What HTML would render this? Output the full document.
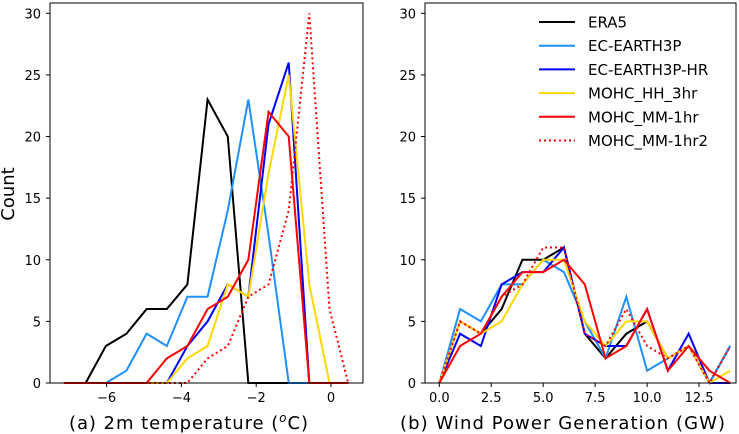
<!DOCTYPE html>
<html><head><meta charset="utf-8"><style>
body{margin:0;background:#fff;}
svg{display:block;font-family:"DejaVu Sans","Liberation Sans",sans-serif;}
</style></head><body>
<svg id="chart" width="739" height="434" viewBox="0 0 739 434" xmlns="http://www.w3.org/2000/svg"></svg>
<script>
const seriesNames=["ERA5","EC-EARTH3P","EC-EARTH3P-HR","MOHC_HH_3hr","MOHC_MM-1hr","MOHC_MM-1hr2"];
const colors=["#000000","#1e90ff","#0000ff","#ffd700","#ff0000","#ff0000"];
const tempX=[-7.14,-6.56,-6.02,-5.47,-4.93,-4.39,-3.84,-3.30,-2.76,-2.21,-1.67,-1.13,-0.58,-0.04,0.46];
const tempERA5=[0,0,3,4,6,6,8,23,20,0,0,0,0,0,0];
const tempEC=[0,0,0,1,4,3,7,7,14,23,12,0,0,0,0];
const tempECHR=[0,0,0,0,0,0,3,5,8,7,21,26,0,0,0];
const tempHH=[0,0,0,0,0,0,2,3,8,7,17,25,8,0,0];
const tempMM=[0,0,0,0,0,2,3,6,7,10,22,20,0,0,0];
const tempMM2=[0,0,0,0,0,0,0,2,3,7,8,14,30,6,0];
const windX=[0,1,2,3,4,5,6,7,8,9,10,11,12,13,14];
const windERA5=[0,5,4,6,10,10,11,4,2,4,5,2,3,0,3];
const windEC=[0,6,5,8,8,10,9,5,2,7,1,2,3,0,3];
const windECHR=[0,4,3,8,9,9,11,4,3,3,6,1,4,0,0];
const windHH=[0,5,4,5,8,10,10,5,3,5,5,2,3,0,1];
const windMM=[0,3,4,7,9,9,10,8,2,3,6,1,3,1,0];
const windMM2=[0,5,4,7,8,11,11,4,3,6,3,2,3,0,3];
const yTicks=[0,5,10,15,20,25,30];
const tempTicks=[-6,-4,-2,0];
const windTicks=[0,2.5,5,7.5,10,12.5];

const svg=document.getElementById('chart');
const NS="http://www.w3.org/2000/svg";
function mk(tag,attrs,parent){const e=document.createElementNS(NS,tag);for(const k in attrs)e.setAttribute(k,attrs[k]);(parent||svg).appendChild(e);return e;}
const yS=v=>383-v*(383-13.3)/30;
const xT=v=>331+v*37.4;
const xW=v=>439.3+v*20.78;

function panel(name,left,right,xs,xTicks,fmt,sets){
  const g=mk('g',{});
  
  
  sets.forEach((d,i)=>{
    const p=mk('polyline',{points:d.map((v,j)=>xs(j)+','+yS(v)).join(' '),fill:'none',stroke:colors[i],'stroke-width':2,'stroke-linejoin':'miter'},g);
    if(i===5)p.setAttribute('stroke-dasharray','2,3');
    
    
  });
  const fr=mk('rect',{x:left,y:3,width:right-left,height:380,fill:'none',stroke:'#000','stroke-width':1},g);
  
  
  yTicks.forEach(t=>{
    mk('line',{x1:left-4,x2:left,y1:yS(t),y2:yS(t),stroke:'#000'},g);
    const tx=mk('text',{x:left-9,y:yS(t)+5,'text-anchor':'end','font-size':13},g);
    tx.textContent=t;
    
    
  });
  xTicks.forEach(t=>{
    mk('line',{x1:xs.tick(t),x2:xs.tick(t),y1:383,y2:387,stroke:'#000'},g);
    const tx=mk('text',{x:xs.tick(t),y:402,'text-anchor':'middle','font-size':13},g);
    tx.textContent=fmt(t);
    
    
  });
  return g;
}
const tx=j=>xT(tempX[j]);tx.tick=xT;
const wx=j=>xW(windX[j]);wx.tick=xW;
panel('panel-temperature',50,363,tx,tempTicks,t=>t<0?'\u2212'+(-t):''+t,[tempERA5,tempEC,tempECHR,tempHH,tempMM,tempMM2]);
const xlA=mk('text',{x:69,y:429,'font-size':18,textLength:239,lengthAdjust:'spacing'});
xlA.innerHTML='(a)  2m temperature (<tspan baseline-shift="super" font-size="12" font-style="italic">o</tspan>C)';


panel('panel-wind',425,736,wx,windTicks,t=>t.toFixed(1),[windERA5,windEC,windECHR,windHH,windMM,windMM2]);
const xlB=mk('text',{x:400,y:429,'font-size':18,textLength:325,lengthAdjust:'spacing'});
xlB.textContent='(b)  Wind Power Generation (GW)';


const yl=mk('text',{x:14,y:194,'text-anchor':'middle','font-size':18,transform:'rotate(-90 14 194)'});
yl.textContent='Count';


const lg=mk('g',{});


seriesNames.forEach((n,i)=>{
  const y=22+i*23.7;
  const l=mk('line',{x1:539,x2:575,y1:y,y2:y,stroke:colors[i],'stroke-width':2},lg);
  if(i===5)l.setAttribute('stroke-dasharray','2,3');
  const t=mk('text',{x:588,y:y+5.5,'font-size':15},lg);
  t.textContent=n;
  
  
});
</script>
</body></html>
